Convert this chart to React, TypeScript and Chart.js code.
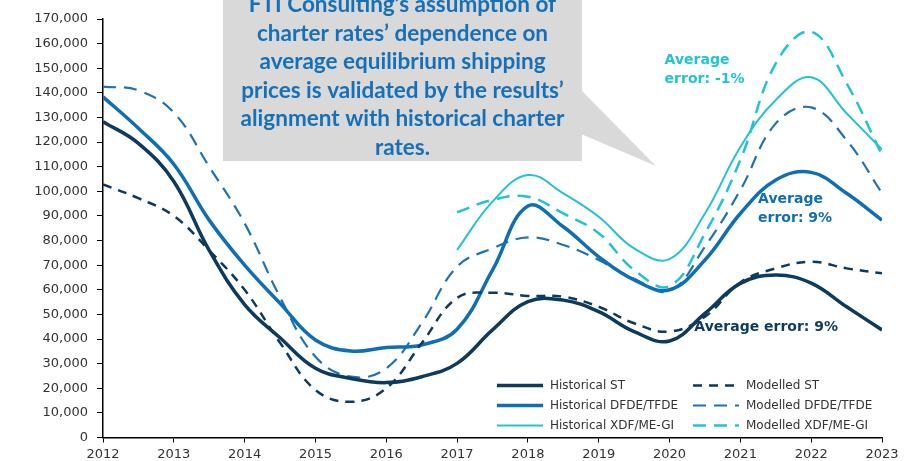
import React, { useEffect, useRef } from "react";
import { Chart, registerables } from "chart.js";

Chart.register(...registerables);

// ---------- DATA ----------
const years = [
  2012, 2012.5, 2013, 2013.5, 2014, 2014.5, 2015, 2015.5, 2016, 2016.5, 2017, 2017.5,
  2018, 2018.5, 2019, 2019.5, 2020, 2020.5, 2021, 2021.5, 2022, 2022.5, 2023,
];

const historicalST = [
  128300, 119500, 104000, 76000, 54000, 40500, 28100, 24000, 22300, 24700, 30100, 43700,
  55200, 55800, 51100, 43000, 39200, 50400, 62600, 66000, 62700, 53100, 43700,
];
const modelledST = [
  102800, 97200, 90000, 76000, 60000, 38500, 19300, 14500, 20000, 38300, 56700, 58800,
  57500, 57200, 53100, 46400, 43000, 49100, 63000, 68700, 71400, 68700, 66700,
];
const historicalDFDE = [
  138400, 125600, 111000, 88300, 70000, 54500, 39600, 35100, 36600, 37600, 44000, 68000,
  94000, 85600, 73400, 64000, 60000, 72100, 91000, 104600, 107700, 99200, 88300,
];
const modelledDFDE = [
  142500, 141000, 132000, 110000, 87000, 57000, 32800, 24700, 28100, 46400, 69400, 76800,
  81300, 78200, 72100, 64500, 59500, 77500, 100500, 127600, 134100, 120800, 99300,
];
const historicalXDF = [
  null, null, null, null, null, null, null, null, null, null, 76200, 95800,
  106600, 99200, 89700, 76800, 72500, 91000, 118000, 137100, 146300, 131700, 117000,
];
const modelledXDF = [
  null, null, null, null, null, null, null, null, null, null, 91500, 96500,
  97800, 91000, 83000, 68000, 61500, 82900, 112700, 152000, 164800, 143900, 114700,
];

const seriesLabels = [
  "Historical ST",
  "Modelled ST",
  "Historical DFDE/TFDE",
  "Modelled DFDE/TFDE",
  "Historical XDF/ME-GI",
  "Modelled XDF/ME-GI",
];

const calloutLines = [
  "FTI Consulting\u2019s assumption of",
  "charter rates\u2019 dependence on",
  "average equilibrium shipping",
  "prices is validated by the results\u2019",
  "alignment with historical charter",
  "rates.",
];

const errorXDF = ["Average", "error: -1%"];
const errorDFDE = ["Average", "error: 9%"];
const errorST = ["Average error: 9%"];

// ---------- STYLE ----------
const NAVY = "#0D3A5F";
const BLUE = "#0F6FB6";
const BLUE_M = "#1E72B5";
const CYAN = "#22C3D2";
const TEXT_BLUE = "#1670B8";

function toPoints(vals: (number | null)[]) {
  return years.map((x, i) => ({ x, y: vals[i] }));
}

const legendPlugin = {
  id: "customLegend",
  afterDatasetsDraw(chart: any) {
    const ctx = chart.ctx;
    const rows = [385.5, 405.5, 425.5];
    const cols = [
      { x0: 497, x1: 543, tx: 550 },
      { x0: 693, x1: 739, tx: 746 },
    ];
    ctx.save();
    chart.data.datasets.forEach((ds: any, i: number) => {
      const col = cols[i % 2];
      const row = rows[Math.floor(i / 2)];
      ctx.beginPath();
      ctx.strokeStyle = ds.borderColor;
      ctx.lineWidth = ds.borderWidth;
      ctx.setLineDash(ds.legendDash || []);
      ctx.moveTo(col.x0, row);
      ctx.lineTo(col.x1, row);
      ctx.stroke();
      ctx.setLineDash([]);
      ctx.fillStyle = "#333333";
      ctx.font = "12px 'DejaVu Sans'";
      ctx.textBaseline = "middle";
      ctx.textAlign = "left";
      ctx.fillText(ds.label, col.tx, row);
    });
    ctx.restore();
  },
};

const annotationPlugin = {
  id: "annotations",
  afterDatasetsDraw(chart: any) {
    const ctx = chart.ctx;
    const xs = chart.scales.x;
    const ys = chart.scales.y;
    ctx.save();
    ctx.font = "bold 14px 'DejaVu Sans'";
    ctx.textBaseline = "middle";
    ctx.textAlign = "left";
    const draw = (lines: string[], x: number, y: number, dy: number, color: string) => {
      ctx.fillStyle = color;
      lines.forEach((t, i) => {
        ctx.fillText(t, xs.getPixelForValue(x), ys.getPixelForValue(y) + i * dy);
      });
    };
    draw(errorXDF, 2019.93, 153300, 19, CYAN);
    draw(errorDFDE, 2021.25, 96900, 19, BLUE);
    draw(errorST, 2020.35, 44900, 19, NAVY);

    // callout box
    ctx.fillStyle = "#D9D9D9";
    ctx.fillRect(223, -5, 359, 166);
    ctx.beginPath();
    ctx.moveTo(581, 90);
    ctx.lineTo(656, 166);
    ctx.lineTo(581, 134);
    ctx.closePath();
    ctx.fill();
    ctx.fillStyle = TEXT_BLUE;
    ctx.font = "bold 22.5px Lato";
    ctx.textAlign = "center";
    calloutLines.forEach((t, i) => {
      ctx.fillText(t, 402.5, 5 + i * 28.5);
    });
    ctx.restore();
  },
};

export default function App() {
  const ref = useRef<HTMLCanvasElement | null>(null);
  useEffect(() => {
    if (!ref.current) return;
    const mk = (
      label: string,
      vals: (number | null)[],
      color: string,
      width: number,
      dash: number[],
      legendDash: number[]
    ) => ({
      label,
      data: toPoints(vals),
      borderColor: color,
      backgroundColor: color,
      borderWidth: width,
      borderDash: dash,
      legendDash,
      pointRadius: 0,
      fill: false,
      tension: 0.4,
      spanGaps: false,
    });
    const chart = new Chart(ref.current, {
      type: "line",
      data: {
        datasets: [
          mk(seriesLabels[0], historicalST, NAVY, 3.5, [], []),
          mk(seriesLabels[1], modelledST, NAVY, 2.5, [9, 7], [9, 7]),
          mk(seriesLabels[2], historicalDFDE, BLUE, 3.5, [], []),
          mk(seriesLabels[3], modelledDFDE, BLUE_M, 2.2, [13, 8], [13, 8]),
          mk(seriesLabels[4], historicalXDF, CYAN, 2, [], []),
          mk(seriesLabels[5], modelledXDF, CYAN, 2.5, [13, 8], [13, 8]),
        ] as any,
      },
      options: {
        animation: false,
        responsive: true,
        maintainAspectRatio: false,
        layout: { padding: { top: 19, right: 24, bottom: 0, left: 0 } },
        plugins: { legend: { display: false }, tooltip: { enabled: false } },
        scales: {
          x: {
            type: "linear",
            min: 2012,
            max: 2023,
            ticks: {
              stepSize: 1,
              autoSkip: false,
              padding: 4,
              color: "#333333",
              font: { family: "'DejaVu Sans'", size: 13 },
              callback: (v: any) => String(v),
            },
            grid: { drawOnChartArea: false, drawTicks: true, tickLength: 5, color: "#000" },
            border: { display: true, color: "#000", width: 1.5 },
            afterFit: (s: any) => {
              s.height = 23.5;
            },
          },
          y: {
            min: 0,
            max: 170000,
            ticks: {
              stepSize: 10000,
              padding: 9,
              color: "#333333",
              font: { family: "'DejaVu Sans'", size: 13 },
              callback: (v: any) => Number(v).toLocaleString("en-US"),
            },
            grid: { drawOnChartArea: false, drawTicks: true, tickLength: 6, color: "#000" },
            border: { display: true, color: "#000", width: 1.5 },
            afterFit: (s: any) => {
              s.width = 103;
            },
          },
        },
      } as any,
      plugins: [legendPlugin, annotationPlugin],
    });
    return () => chart.destroy();
  }, []);
  return (
    <div style={{ position: "fixed", left: 0, top: 0, width: 906, height: 461, background: "#fff" }}>
      <canvas ref={ref} />
    </div>
  );
}
